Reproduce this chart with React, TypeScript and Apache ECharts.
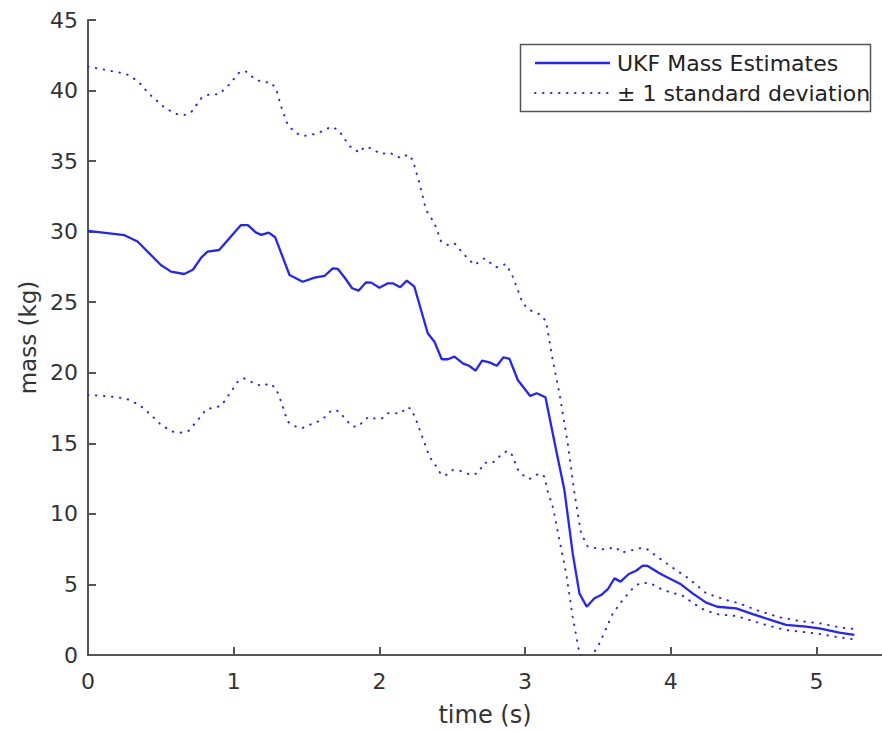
import React, { useEffect, useRef } from "react";
import * as echarts from "echarts";

const mainX = [0, 0.25, 0.34, 0.5, 0.57, 0.66, 0.72, 0.777, 0.82, 0.9, 1.05, 1.097, 1.154, 1.19, 1.24, 1.285, 1.383, 1.474, 1.555, 1.623, 1.68, 1.715, 1.76, 1.813, 1.857, 1.909, 1.944, 2.0, 2.058, 2.092, 2.143, 2.188, 2.24, 2.332, 2.378, 2.428, 2.47, 2.515, 2.573, 2.618, 2.66, 2.705, 2.755, 2.806, 2.852, 2.893, 2.95, 3.035, 3.08, 3.14, 3.213, 3.27, 3.327, 3.373, 3.423, 3.476, 3.522, 3.568, 3.614, 3.655, 3.712, 3.762, 3.808, 3.842, 3.922, 3.968, 4.07, 4.15, 4.243, 4.32, 4.449, 4.563, 4.7, 4.792, 4.929, 5.02, 5.158, 5.26];
const mainY = [30.05, 29.75, 29.3, 27.64, 27.17, 27.0, 27.3, 28.16, 28.58, 28.7, 30.47, 30.47, 29.93, 29.77, 29.93, 29.6, 26.93, 26.45, 26.74, 26.86, 27.4, 27.36, 26.77, 25.99, 25.82, 26.41, 26.39, 26.03, 26.34, 26.34, 26.06, 26.53, 26.1, 22.8, 22.2, 20.96, 20.96, 21.14, 20.67, 20.48, 20.15, 20.86, 20.74, 20.5, 21.1, 20.98, 19.49, 18.36, 18.55, 18.26, 14.53, 11.69, 7.2, 4.37, 3.42, 4.02, 4.25, 4.66, 5.43, 5.2, 5.74, 5.97, 6.33, 6.31, 5.79, 5.55, 5.01, 4.37, 3.71, 3.42, 3.31, 2.9, 2.43, 2.13, 2.01, 1.89, 1.58, 1.42];

const upperX = [0, 0.159, 0.262, 0.342, 0.422, 0.525, 0.605, 0.662, 0.708, 0.777, 0.834, 0.9, 0.971, 1.04, 1.079, 1.154, 1.211, 1.253, 1.29, 1.326, 1.371, 1.429, 1.486, 1.577, 1.669, 1.72, 1.795, 1.863, 1.898, 1.944, 2.012, 2.069, 2.15, 2.195, 2.23, 2.275, 2.32, 2.378, 2.424, 2.47, 2.515, 2.584, 2.653, 2.721, 2.802, 2.87, 2.916, 2.984, 3.03, 3.11, 3.145, 3.19, 3.236, 3.293, 3.339, 3.385, 3.43, 3.533, 3.625, 3.66, 3.785, 3.83, 3.922, 4.037, 4.128, 4.243, 4.38, 4.472, 4.586, 4.746, 4.883, 5.02, 5.158, 5.273];
const upperY = [41.7, 41.39, 41.18, 40.68, 39.74, 38.79, 38.34, 38.27, 38.46, 39.45, 39.74, 39.74, 40.44, 41.3, 41.39, 40.75, 40.59, 40.59, 40.16, 38.86, 37.56, 36.97, 36.78, 36.97, 37.44, 37.2, 36.07, 35.6, 36.02, 35.9, 35.5, 35.6, 35.2, 35.48, 35.08, 33.43, 31.54, 30.6, 29.29, 29.06, 29.18, 28.35, 27.64, 28.11, 27.48, 27.71, 26.81, 24.92, 24.45, 24.1, 23.62, 20.9, 18.55, 15.0, 11.46, 8.62, 7.68, 7.49, 7.63, 7.25, 7.56, 7.56, 6.85, 6.02, 5.39, 4.37, 3.9, 3.66, 3.19, 2.67, 2.41, 2.25, 1.96, 1.82];

const lowerX = [0, 0.159, 0.262, 0.353, 0.434, 0.502, 0.582, 0.64, 0.69, 0.754, 0.811, 0.914, 0.971, 1.028, 1.07, 1.154, 1.2, 1.246, 1.29, 1.326, 1.371, 1.417, 1.467, 1.555, 1.605, 1.673, 1.72, 1.783, 1.822, 1.863, 1.893, 1.932, 1.978, 2.019, 2.058, 2.15, 2.184, 2.218, 2.257, 2.294, 2.344, 2.4, 2.424, 2.463, 2.504, 2.55, 2.63, 2.675, 2.721, 2.778, 2.843, 2.881, 2.911, 2.95, 2.984, 3.03, 3.099, 3.133, 3.156, 3.19, 3.236, 3.282, 3.327, 3.369, 3.42, 3.46, 3.5, 3.557, 3.602, 3.671, 3.728, 3.785, 3.854, 3.945, 4.082, 4.208, 4.312, 4.449, 4.54, 4.677, 4.79, 4.929, 5.02, 5.158, 5.26];
const lowerY = [18.45, 18.31, 18.17, 17.72, 17.0, 16.3, 15.83, 15.76, 15.88, 16.65, 17.41, 17.65, 18.5, 19.37, 19.61, 19.18, 19.06, 19.26, 18.9, 17.95, 16.53, 16.23, 16.07, 16.46, 16.65, 17.36, 17.29, 16.53, 16.18, 16.23, 16.65, 16.89, 16.73, 16.78, 17.13, 17.13, 17.55, 17.46, 16.53, 15.47, 14.05, 13.23, 12.76, 12.78, 13.11, 13.06, 12.76, 12.88, 13.63, 13.63, 14.25, 14.48, 14.17, 13.16, 12.76, 12.47, 12.88, 12.64, 11.57, 10.51, 8.15, 5.79, 2.71, 0.35, -1.2, 0, 0.59, 1.89, 2.95, 3.9, 4.61, 5.08, 5.12, 4.61, 4.2, 3.3, 2.9, 2.76, 2.48, 2.06, 1.77, 1.61, 1.49, 1.25, 1.11];

const mainName = "UKF Mass Estimates";
const bandName = "± 1 standard deviation";
const xTitle = "time (s)";
const yTitle = "mass (kg)";

const pairs = (xs: number[], ys: number[]) => xs.map((x, i) => [x, ys[i]]);

const FONT = "DejaVu Sans";
const BLUE = "#2424ff";
const AXIS = "#555555";
const DOT_DASH = [0.5, 7.5];

export default function App() {
  const ref = useRef<HTMLDivElement>(null);
  useEffect(() => {
    if (!ref.current) return;
    const chart = echarts.init(ref.current, null, { renderer: "svg" });
    const dotted = {
      color: BLUE,
      width: 2,
      type: DOT_DASH as any,
      cap: "round" as any,
    };
    chart.setOption({
      animation: false,
      backgroundColor: "#ffffff",
      grid: { left: 88, right: 0, top: 20, bottom: 78 },
      xAxis: {
        type: "value",
        min: 0,
        max: 5.45,
        interval: 1,
        name: xTitle,
        nameLocation: "middle",
        nameGap: 48,
        nameTextStyle: { fontFamily: FONT, fontSize: 24, color: "#333" },
        axisLine: { show: true, lineStyle: { color: AXIS, width: 2 } },
        axisTick: { show: true, inside: true, length: 8, lineStyle: { color: AXIS, width: 2 } },
        axisLabel: {
          fontFamily: FONT,
          fontSize: 22,
          color: "#333",
          margin: 15,
          showMaxLabel: false,
          formatter: (v: number) => (Number.isInteger(v) ? String(v) : ""),
        },
        splitLine: { show: false },
      },
      yAxis: {
        type: "value",
        min: 0,
        max: 45,
        interval: 5,
        name: yTitle,
        nameLocation: "middle",
        nameGap: 48,
        nameRotate: 90,
        nameTextStyle: { fontFamily: FONT, fontSize: 23, color: "#333" },
        axisLine: { show: true, lineStyle: { color: AXIS, width: 2 } },
        axisTick: { show: true, inside: true, length: 8, lineStyle: { color: AXIS, width: 2 } },
        axisLabel: { fontFamily: FONT, fontSize: 22, color: "#333", margin: 10 },
        splitLine: { show: false },
      },
      graphic: [
        {
          type: "group",
          z: 10,
          children: [
            {
              type: "rect",
              shape: { x: 520.5, y: 44.5, width: 350, height: 67 },
              style: { fill: "#ffffff", stroke: AXIS, lineWidth: 1.5 },
            },
            {
              type: "line",
              shape: { x1: 535, y1: 63, x2: 610, y2: 63 },
              style: { stroke: BLUE, lineWidth: 2.3 },
            },
            {
              type: "line",
              shape: { x1: 535, y1: 93, x2: 610, y2: 93 },
              style: { stroke: BLUE, lineWidth: 2, lineDash: DOT_DASH, lineCap: "round" },
            },
            {
              type: "text",
              x: 617,
              y: 63,
              style: { text: mainName, font: `22px '${FONT}'`, fill: "#222", verticalAlign: "middle", align: "left" },
            },
            {
              type: "text",
              x: 617,
              y: 93,
              style: { text: bandName, font: `22px '${FONT}'`, fill: "#222", verticalAlign: "middle", align: "left" },
            },
          ],
        },
      ],
      series: [
        {
          name: mainName,
          type: "line",
          data: pairs(mainX, mainY),
          symbol: "none",
          lineStyle: { color: BLUE, width: 2.3 },
          itemStyle: { color: BLUE },
        },
        {
          name: bandName,
          type: "line",
          data: pairs(upperX, upperY),
          symbol: "none",
          lineStyle: dotted,
          itemStyle: { color: BLUE },
        },
        {
          name: bandName,
          type: "line",
          data: pairs(lowerX, lowerY),
          symbol: "none",
          lineStyle: dotted,
          itemStyle: { color: BLUE },
        },
      ],
    });
    return () => chart.dispose();
  }, []);
  return <div ref={ref} style={{ width: 882, height: 733, position: "absolute", left: 0, top: 0 }} />;
}
